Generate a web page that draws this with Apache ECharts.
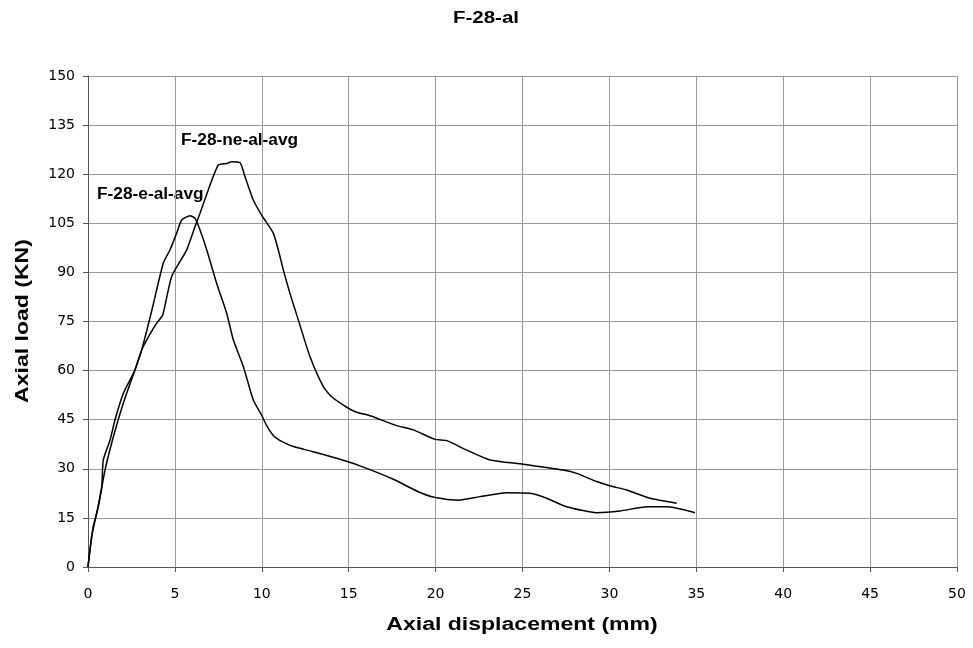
<!DOCTYPE html>
<html>
<head>
<meta charset="utf-8">
<script src="https://cdn.jsdelivr.net/npm/echarts@6/dist/echarts.min.js"></script>
<style>
  html, body { margin: 0; padding: 0; background: #fff; }
  #chart { width: 973px; height: 648px; }
</style>
</head>
<body>
<div id="chart"></div>
<script>
// displacement (mm), load (KN)
var eAlAvg = [
  [0, 0], [0.02, 1.1], [0.3, 12.3], [0.59, 18.4], [0.98, 29.6], [1.46, 39.8],
  [2.03, 50], [2.7, 60.2], [3.09, 66.3], [3.7, 79], [4.33, 92.8], [4.72, 96.9],
  [5.1, 102], [5.39, 106], [5.87, 107.3], [6.16, 106.5], [6.44, 103], [6.83, 96.9],
  [7.4, 86.7], [7.98, 77.5], [8.36, 69.4], [8.94, 61.2], [9.51, 51], [9.99, 46.4],
  [10.3, 43], [10.66, 40.2], [11.2, 38.2], [11.81, 36.8], [12.96, 35.2], [14.31, 33.2],
  [15.65, 30.9], [17.57, 26.8], [19, 23], [20, 21.2], [21.3, 20.4], [22.55, 21.5],
  [24.09, 22.7], [25.43, 22.5], [26.39, 21], [27.54, 18.4], [29.27, 16.6], [30.6, 17.1],
  [32.15, 18.4], [33.3, 18.4], [34.93, 16.6]
]
var neAlAvg = [
  [0, 0], [0.21, 9.3], [0.5, 16.4], [0.79, 24.5], [0.88, 32.7], [1.27, 38.8],
  [1.55, 44.9], [2.03, 53], [2.7, 60.2], [3.09, 66.3], [3.5, 70.5], [3.95, 74.5],
  [4.3, 77], [4.81, 88.7], [5.68, 96.9], [6.16, 104], [6.44, 108], [6.92, 115.2],
  [7.5, 122.8], [7.98, 123.3], [8.27, 123.8], [8.75, 123.5], [9.03, 119.3],
  [9.51, 112.1], [9.99, 107.5], [10.66, 102], [11.05, 94.8], [11.24, 90.7],
  [11.62, 83.6], [12.1, 75.5], [12.77, 64.3], [13.54, 55.1], [14.02, 52],
  [14.98, 48.5], [15.46, 47.3], [16.23, 46.2], [17.76, 43.2], [18.72, 41.9],
  [19.97, 39], [20.64, 38.6], [21.79, 35.7], [23.13, 32.7], [25.05, 31.4],
  [27.35, 29.6], [28.12, 28.6], [29.27, 26.1], [30.03, 24.8], [31, 23.5],
  [32.34, 21], [33.87, 19.5]
]
var seriesNames = ['F-28-e-al-avg', 'F-28-ne-al-avg']
var chartTitle = 'F-28-al'
var xTitle = 'Axial displacement (mm)'
var yTitle = 'Axial load (KN)'

var font = 'Liberation Sans, Arial, sans-serif'
var tickFont = 'DejaVu Sans, Liberation Sans, sans-serif'
var stretch = 1.28 // text in the original is drawn wider than Arial
var chart = echarts.init(document.getElementById('chart'))

var option = {
  animation: false,
  backgroundColor: '#fff',
  grid: { left: 88, right: 16, top: 76, bottom: 81 },
  xAxis: {
    type: 'value',
    min: 0, max: 50, interval: 5,
    axisLine: { lineStyle: { color: '#555', width: 1 } },
    axisTick: { show: true, length: 5, lineStyle: { color: '#555' } },
    axisLabel: { fontFamily: tickFont, fontSize: 14, color: '#000', margin: 20 },
    splitLine: { show: true, lineStyle: { color: '#999', width: 1 } }
  },
  yAxis: {
    type: 'value',
    min: 0, max: 150, interval: 15,
    axisLine: { show: true, lineStyle: { color: '#555', width: 1 } },
    axisTick: { show: true, length: 5, lineStyle: { color: '#555' } },
    axisLabel: { fontFamily: tickFont, fontSize: 14, color: '#000', margin: 13 },
    splitLine: { show: true, lineStyle: { color: '#999', width: 1 } }
  },
  series: [
    {
      name: seriesNames[0],
      type: 'line',
      data: eAlAvg,
      smooth: 0.2,
      showSymbol: false,
      lineStyle: { color: '#000', width: 1.5 }
    },
    {
      name: seriesNames[1],
      type: 'line',
      data: neAlAvg,
      smooth: 0.2,
      showSymbol: false,
      lineStyle: { color: '#000', width: 1.5 }
    }
  ],
  graphic: [
    {
      type: 'text', x: 486, y: 19, scaleX: stretch,
      style: { text: chartTitle, font: 'bold 16px ' + font, fill: '#000', align: 'center', verticalAlign: 'middle' }
    },
    {
      type: 'text', x: 522, y: 625, scaleX: stretch,
      style: { text: xTitle, font: 'bold 18px ' + font, fill: '#000', align: 'center', verticalAlign: 'middle' }
    },
    {
      type: 'text', x: 23, y: 321, rotation: Math.PI / 2, scaleX: stretch,
      style: { text: yTitle, font: 'bold 18px ' + font, fill: '#000', align: 'center', verticalAlign: 'middle' }
    },
    {
      type: 'text', x: 97, y: 195, scaleX: 1.08,
      style: { text: seriesNames[0], font: 'bold 16px ' + font, fill: '#000', align: 'left', verticalAlign: 'middle' }
    },
    {
      type: 'text', x: 181, y: 141, scaleX: 1.08,
      style: { text: seriesNames[1], font: 'bold 16px ' + font, fill: '#000', align: 'left', verticalAlign: 'middle' }
    }
  ]
}

chart.setOption(option, true)
window.addEventListener('resize', function () { chart.resize() })
</script>
</body>
</html>
